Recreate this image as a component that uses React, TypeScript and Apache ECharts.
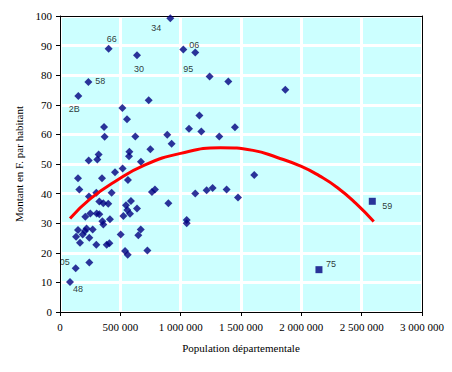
import React, { useEffect, useRef } from "react";
import * as echarts from "echarts";

// Départements: population (inhabitants) and amount (F per inhabitant)
const populations: number[] = [
  914000, 403000, 638000, 1022000, 1121000, 1240000, 1395000, 152000, 235000, 517000,
  735000, 555000, 1155000, 365000, 1069000, 1171000, 370000, 624000, 889000, 1320000,
  1450000, 1867000, 925000, 749000, 575000, 572000, 320000, 309000, 238000, 671000,
  519000, 456000, 348000, 149000, 563000, 1610000, 1475000, 160000, 240000, 301000,
  326000, 359000, 400000, 428000, 251000, 210000, 304000, 326000, 351000, 359000,
  414000, 149000, 207000, 271000, 133000, 188000, 166000, 301000, 387000, 409000,
  243000, 130000, 83000, 503000, 525000, 547000, 588000, 558000, 580000, 638000,
  649000, 669000, 539000, 561000, 724000, 762000, 787000, 898000, 1050000, 1050000,
  1121000, 1215000, 1265000, 1381000, 243000, 220000,
];
const amounts: number[] = [
  99.2, 88.9, 86.7, 88.7, 87.7, 79.6, 77.9, 73.0, 77.7, 68.9,
  71.5, 65.1, 66.4, 62.5, 61.9, 61.0, 59.2, 59.3, 59.9, 59.3,
  62.4, 75.1, 56.8, 55.0, 54.1, 52.6, 53.2, 51.5, 51.2, 50.8,
  48.5, 47.2, 45.2, 45.2, 44.6, 46.3, 38.7, 41.4, 39.0, 40.3,
  37.3, 36.7, 36.6, 40.3, 33.3, 32.2, 33.3, 33.0, 30.7, 29.6,
  31.3, 27.7, 27.4, 27.9, 25.4, 26.2, 23.4, 22.7, 22.7, 23.2,
  16.7, 14.8, 10.1, 26.2, 32.4, 36.1, 37.5, 34.5, 33.2, 35.0,
  25.9, 27.9, 20.6, 19.3, 20.8, 40.5, 41.4, 36.7, 31.1, 30.0,
  40.0, 41.1, 41.9, 41.4, 25.1, 28.2,
];
const codes: string[] = [
  "34", "66", "30", "06", "95", "", "", "2B", "58", "",
  "", "", "", "", "", "", "", "", "", "",
  "", "", "", "", "", "", "", "", "", "",
  "", "", "", "", "", "", "", "", "", "",
  "", "", "", "", "", "", "", "", "", "",
  "", "", "", "", "", "", "", "", "", "",
  "", "05", "48", "", "", "", "", "", "", "",
  "", "", "", "", "", "", "", "", "", "",
  "", "", "", "", "", "",
];

// Highlighted départements (squares)
const bigPopulations: number[] = [2588000, 2146000];
const bigAmounts: number[] = [37.4, 14.3];
const bigCodes: string[] = ["59", "75"];

// Trend curve
const trendX: number[] = [83000, 250000, 450000, 700000, 1000000, 1330000, 1600000, 1800000, 2000000, 2150000, 2300000, 2450000, 2600000];
const trendY: number[] = [31.6, 38.2, 43.9, 49.6, 53.6, 55.5, 54.6, 52.2, 49.2, 46.0, 42.0, 36.8, 30.6];

const xTicks: number[] = [0, 500000, 1000000, 1500000, 2000000, 2500000, 3000000];

const labelOffsets: Record<string, [number, number]> = {
  "34": [-14, 10],
  "66": [3, -10],
  "30": [2, 14],
  "06": [11, -4],
  "95": [-7, 17],
  "2B": [-4, 13],
  "58": [12, -1],
  "05": [-11, -6],
  "48": [8, 7],
  "59": [15, 5],
  "75": [12, -6],
};

function fmt(v: number): string {
  if (v === 0) return "0";
  const s = String(Math.round(v));
  return s.replace(/\B(?=(\d{3})+(?!\d))/g, " ");
}

function makeItem(x: number, y: number, code: string) {
  const item: any = { value: [x, y] };
  if (code) {
    item.label = {
      show: true,
      formatter: code,
      position: "inside",
      offset: labelOffsets[code] || [10, 0],
      color: "#000",
      fontFamily: "Liberation Sans",
      fontSize: 9,
    };
  }
  return item;
}

export default function App() {
  const ref = useRef<HTMLDivElement>(null);
  useEffect(() => {
    if (!ref.current) return;
    const chart = echarts.init(ref.current, undefined, { renderer: "svg" });
    const font = "Liberation Serif";
    const frameAxis = {
      type: "value",
      min: 0,
      axisLine: { show: true, onZero: false, lineStyle: { color: "#000", width: 1 } },
      axisTick: { show: false },
      axisLabel: { show: false },
      splitLine: { show: false },
    };
    chart.setOption({
      animation: false,
      backgroundColor: "#ffffff",
      grid: {
        left: 60,
        right: 30,
        top: 16,
        bottom: 60,
      },
      xAxis: [
        {
          type: "value",
          min: 0,
          max: 3000000,
          interval: 500000,
          name: "Population départementale",
          nameLocation: "middle",
          nameGap: 30,
          nameTextStyle: { fontFamily: font, fontSize: 11, color: "#000" },
          axisLine: { show: true, onZero: false, lineStyle: { color: "#000", width: 1 } },
          axisTick: { show: true, length: 4, lineStyle: { color: "#000" } },
          axisLabel: {
            formatter: (v: number) => (xTicks.indexOf(v) >= 0 ? fmt(v) : ""),
            fontFamily: font,
            fontSize: 11,
            color: "#000",
            margin: 9,
          },
          splitLine: { show: true, lineStyle: { color: "#ffffff", width: 3 } },
        },
        { ...frameAxis, position: "top", max: 3000000, interval: 500000 },
      ],
      yAxis: [
        {
          type: "value",
          min: 0,
          max: 100,
          interval: 10,
          name: "Montant en F. par habitant",
          nameLocation: "middle",
          nameGap: 30,
          nameRotate: 90,
          nameTextStyle: { fontFamily: font, fontSize: 11, color: "#000" },
          axisLine: { show: true, onZero: false, lineStyle: { color: "#000", width: 1 } },
          axisTick: { show: true, length: 4, lineStyle: { color: "#000" } },
          axisLabel: { fontFamily: font, fontSize: 11, color: "#000", margin: 8 },
          splitArea: { show: true, areaStyle: { color: ["#CCFFFF", "#CCFFFF"] } },
          splitLine: { show: true, lineStyle: { color: "#ffffff", width: 3 } },
        },
        { ...frameAxis, position: "right", max: 100, interval: 10 },
      ],
      series: [
        {
          type: "scatter",
          symbol: "diamond",
          symbolSize: 8,
          itemStyle: { color: "#000080" },
          data: populations.map((x, i) => makeItem(x, amounts[i], codes[i])),
          z: 3,
        },
        {
          type: "scatter",
          symbol: "rect",
          symbolSize: 7,
          itemStyle: { color: "#000080" },
          data: bigPopulations.map((x, i) => makeItem(x, bigAmounts[i], bigCodes[i])),
          z: 3,
        },
        {
          type: "line",
          smooth: 0.5,
          symbol: "none",
          lineStyle: { color: "#FF0000", width: 3 },
          data: trendX.map((x, i) => [x, trendY[i]]),
          z: 4,
        },
      ],
    });
    return () => chart.dispose();
  }, []);
  return (
    <div
      ref={ref}
      style={{ position: "fixed", left: 0, top: 0, width: 452, height: 372 }}
    />
  );
}
